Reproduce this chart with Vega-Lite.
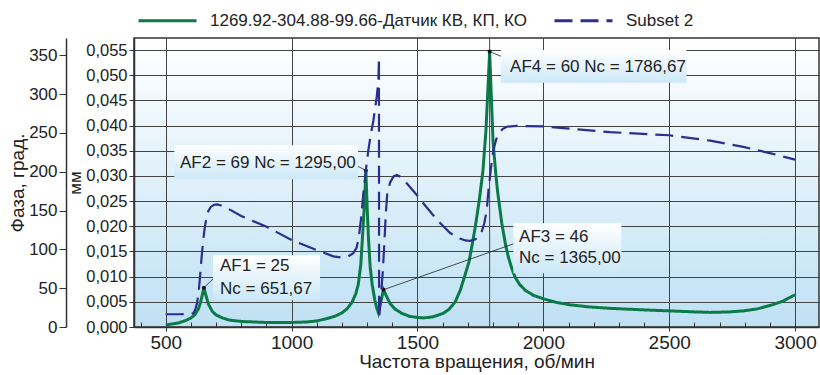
{
  "$schema": "https://vega.github.io/schema/vega-lite/v6.json",
  "width": 685,
  "height": 289,
  "autosize": {"type": "none"},
  "padding": {"left": 134, "top": 38, "right": 1, "bottom": 48},
  "background": "white",
  "config": {
    "locale": {"number": {"decimal": ",", "thousands": " ", "grouping": [3], "currency": ["", ""]}},
    "font": "Liberation Sans",
    "view": {
      "stroke": "#333333",
      "strokeWidth": 1.5,
      "fill": {"gradient": "linear", "x1": 0, "y1": 0, "x2": 0, "y2": 1,
        "stops": [{"offset": 0, "color": "#ffffff"}, {"offset": 1, "color": "#bfe1f4"}]}
    },
    "axis": {
      "labelFont": "Liberation Sans", "titleFont": "Liberation Sans",
      "labelColor": "#222222", "titleColor": "#222222", "titleFontWeight": "normal",
      "domainColor": "#333333", "tickColor": "#333333", "domainWidth": 1.5, "tickWidth": 1,
      "labelOverlap": false
    },
    "legend": {"labelFont": "Liberation Sans"}
  },
  "datasets": {
    "amp": [
      {"rpm": 500, "v": 0.0004}, {"rpm": 550, "v": 0.0008}, {"rpm": 580, "v": 0.0013},
      {"rpm": 600, "v": 0.0018}, {"rpm": 615, "v": 0.0024}, {"rpm": 630, "v": 0.0036},
      {"rpm": 640, "v": 0.0052}, {"rpm": 651.67, "v": 0.0078}, {"rpm": 660, "v": 0.0062},
      {"rpm": 670, "v": 0.0045}, {"rpm": 685, "v": 0.0031}, {"rpm": 700, "v": 0.0024},
      {"rpm": 725, "v": 0.0018}, {"rpm": 750, "v": 0.0014}, {"rpm": 800, "v": 0.0011},
      {"rpm": 900, "v": 0.0009}, {"rpm": 1000, "v": 0.0009}, {"rpm": 1060, "v": 0.001},
      {"rpm": 1100, "v": 0.0012}, {"rpm": 1150, "v": 0.0018}, {"rpm": 1175, "v": 0.0022},
      {"rpm": 1200, "v": 0.0028}, {"rpm": 1220, "v": 0.0036}, {"rpm": 1240, "v": 0.0049},
      {"rpm": 1255, "v": 0.0066}, {"rpm": 1265, "v": 0.0085}, {"rpm": 1275, "v": 0.0125},
      {"rpm": 1283, "v": 0.019}, {"rpm": 1290, "v": 0.025}, {"rpm": 1295, "v": 0.0311},
      {"rpm": 1300, "v": 0.024}, {"rpm": 1305, "v": 0.018}, {"rpm": 1312, "v": 0.012},
      {"rpm": 1320, "v": 0.0085}, {"rpm": 1330, "v": 0.0055}, {"rpm": 1338, "v": 0.0038},
      {"rpm": 1345, "v": 0.0028}, {"rpm": 1365, "v": 0.0074}, {"rpm": 1380, "v": 0.0058},
      {"rpm": 1391, "v": 0.0047}, {"rpm": 1410, "v": 0.0036}, {"rpm": 1438, "v": 0.0027},
      {"rpm": 1470, "v": 0.0021}, {"rpm": 1500, "v": 0.0019}, {"rpm": 1524, "v": 0.0018},
      {"rpm": 1560, "v": 0.002}, {"rpm": 1602, "v": 0.0027}, {"rpm": 1625, "v": 0.0035},
      {"rpm": 1650, "v": 0.005}, {"rpm": 1670, "v": 0.0073}, {"rpm": 1690, "v": 0.0105},
      {"rpm": 1705, "v": 0.013}, {"rpm": 1716, "v": 0.016}, {"rpm": 1730, "v": 0.02},
      {"rpm": 1745, "v": 0.025}, {"rpm": 1760, "v": 0.031}, {"rpm": 1772, "v": 0.039},
      {"rpm": 1786.67, "v": 0.0547}, {"rpm": 1800, "v": 0.037}, {"rpm": 1810, "v": 0.031},
      {"rpm": 1818, "v": 0.027}, {"rpm": 1835, "v": 0.0206}, {"rpm": 1850, "v": 0.0163},
      {"rpm": 1861, "v": 0.0139}, {"rpm": 1875, "v": 0.0116}, {"rpm": 1888, "v": 0.0099},
      {"rpm": 1905, "v": 0.0085}, {"rpm": 1928, "v": 0.0073}, {"rpm": 1960, "v": 0.0063},
      {"rpm": 2000, "v": 0.0056}, {"rpm": 2050, "v": 0.0049}, {"rpm": 2107, "v": 0.0044},
      {"rpm": 2180, "v": 0.004}, {"rpm": 2266, "v": 0.0037}, {"rpm": 2400, "v": 0.0034},
      {"rpm": 2500, "v": 0.0032}, {"rpm": 2600, "v": 0.003}, {"rpm": 2663, "v": 0.0029},
      {"rpm": 2740, "v": 0.003}, {"rpm": 2795, "v": 0.0032}, {"rpm": 2850, "v": 0.0036},
      {"rpm": 2902, "v": 0.0043}, {"rpm": 2950, "v": 0.0051}, {"rpm": 3000, "v": 0.0064}
    ],
    "phase": [
      {"rpm": 500, "v": 16.4}, {"rpm": 550, "v": 16.4}, {"rpm": 600, "v": 16.6},
      {"rpm": 610, "v": 18}, {"rpm": 618, "v": 23}, {"rpm": 625, "v": 32},
      {"rpm": 631, "v": 45}, {"rpm": 636, "v": 64}, {"rpm": 642, "v": 88},
      {"rpm": 649, "v": 112}, {"rpm": 655, "v": 128}, {"rpm": 662, "v": 141},
      {"rpm": 670, "v": 150}, {"rpm": 680, "v": 155}, {"rpm": 692, "v": 157.5},
      {"rpm": 705, "v": 158}, {"rpm": 720, "v": 156.5}, {"rpm": 750, "v": 152},
      {"rpm": 800, "v": 143}, {"rpm": 901, "v": 129}, {"rpm": 1000, "v": 112},
      {"rpm": 1100, "v": 99}, {"rpm": 1166, "v": 91}, {"rpm": 1200, "v": 89.5},
      {"rpm": 1225, "v": 91}, {"rpm": 1245, "v": 95}, {"rpm": 1258, "v": 102},
      {"rpm": 1267, "v": 115}, {"rpm": 1276, "v": 140}, {"rpm": 1285, "v": 172},
      {"rpm": 1295, "v": 202}, {"rpm": 1305, "v": 228}, {"rpm": 1315, "v": 249},
      {"rpm": 1325, "v": 266}, {"rpm": 1338, "v": 296}, {"rpm": 1345, "v": 318},
      {"rpm": 1347, "v": 347}, {"rpm": 1347.6, "v": 11}, {"rpm": 1350, "v": 20},
      {"rpm": 1356, "v": 45}, {"rpm": 1362, "v": 70}, {"rpm": 1368, "v": 105},
      {"rpm": 1374, "v": 145}, {"rpm": 1380, "v": 172}, {"rpm": 1391, "v": 186},
      {"rpm": 1405, "v": 194}, {"rpm": 1418, "v": 196}, {"rpm": 1430, "v": 194},
      {"rpm": 1450, "v": 188}, {"rpm": 1471, "v": 180}, {"rpm": 1500, "v": 169},
      {"rpm": 1524, "v": 159}, {"rpm": 1560, "v": 145}, {"rpm": 1590, "v": 134},
      {"rpm": 1630, "v": 121}, {"rpm": 1669, "v": 114}, {"rpm": 1690, "v": 111.5},
      {"rpm": 1709, "v": 111}, {"rpm": 1730, "v": 113}, {"rpm": 1742, "v": 116},
      {"rpm": 1755, "v": 123}, {"rpm": 1765, "v": 133}, {"rpm": 1775, "v": 150},
      {"rpm": 1782, "v": 176}, {"rpm": 1792, "v": 205}, {"rpm": 1802, "v": 228},
      {"rpm": 1812, "v": 241}, {"rpm": 1822, "v": 249}, {"rpm": 1838, "v": 255},
      {"rpm": 1855, "v": 258}, {"rpm": 1894, "v": 259}, {"rpm": 2000, "v": 258.5},
      {"rpm": 2265, "v": 251}, {"rpm": 2500, "v": 247}, {"rpm": 2663, "v": 240},
      {"rpm": 2795, "v": 232}, {"rpm": 2900, "v": 224}, {"rpm": 3000, "v": 215.6}
    ],
    "boxes": [
      {"x1": 688, "x2": 1113, "y1": 0.0053, "y2": 0.01425},
      {"x1": 534, "x2": 1264, "y1": 0.02936, "y2": 0.03612},
      {"x1": 1881, "x2": 2310, "y1": 0.01068, "y2": 0.02062},
      {"x1": 1831, "x2": 2568, "y1": 0.04851, "y2": 0.05501}
    ],
    "leaders": [
      {"x1": 651.67, "y1": 0.0078, "x2": 696, "y2": 0.00994},
      {"x1": 1295, "y1": 0.0311, "x2": 1260, "y2": 0.032},
      {"x1": 1365, "y1": 0.0074, "x2": 1888, "y2": 0.01664},
      {"x1": 1786.67, "y1": 0.0547, "x2": 1835, "y2": 0.0537}
    ],
    "labels": [
      {"x": 715.7, "y": 0.01207, "t": "AF1 = 25"},
      {"x": 715.7, "y": 0.00763, "t": "Nc = 651,67"},
      {"x": 556.8, "y": 0.03254, "t": "AF2 = 69 Nc = 1295,00"},
      {"x": 1903.6, "y": 0.01789, "t": "AF3 = 46"},
      {"x": 1903.6, "y": 0.01366, "t": "Nc = 1365,00"},
      {"x": 1868, "y": 0.05169, "t": "AF4 = 60 Nc = 1786,67"}
    ],
    "peaks": [
      {"x": 651.67, "y": 0.0078}, {"x": 1295, "y": 0.0311},
      {"x": 1365, "y": 0.0074}, {"x": 1786.67, "y": 0.0547}
    ],
    "marker": [{"rpm": 1786.67}]
  },
  "layer": [
    {
      "layer": [
        {
          "data": {"name": "amp"},
          "transform": [{"calculate": "'1269.92-304.88-99.66-Датчик КВ, КП, КО'", "as": "series"}],
          "mark": {"type": "line", "strokeWidth": 3, "interpolate": "linear"},
          "encoding": {
            "x": {
              "field": "rpm", "type": "quantitative",
              "scale": {"domain": [374, 3095], "nice": false, "zero": false},
              "axis": {
                "title": "Частота вращения, об/мин", "orient": "bottom",
                "values": [500, 1000, 1500, 2000, 2500, 3000], "tickCount": 10, "format": "d",
                "labelFontSize": 19, "titleFontSize": 19, "tickSize": 4, "labelPadding": 2,
                "titlePadding": 0, "grid": true, "gridColor": "#444444", "gridWidth": 1
              }
            },
            "y": {
              "field": "v", "type": "quantitative",
              "scale": {"domain": [0, 0.0574], "nice": false, "zero": false},
              "axis": {
                "title": "мм", "orient": "left",
                "values": [0, 0.005, 0.01, 0.015, 0.02, 0.025, 0.03, 0.035, 0.04, 0.045, 0.05, 0.055],
                "tickCount": 20,
                "format": ".3f", "labelFontSize": 16.5, "titleFontSize": 17, "tickSize": 5,
                "labelPadding": 2, "titlePadding": 1, "grid": true, "gridColor": "#444444", "gridWidth": 1
              }
            },
            "color": {
              "field": "series", "type": "nominal",
              "scale": {"domain": ["1269.92-304.88-99.66-Датчик КВ, КП, КО", "Subset 2"], "range": ["#0b7a48", "#2c2e8e"]},
              "legend": {
                "orient": "none", "legendX": 3, "legendY": -48, "direction": "horizontal", "title": null,
                "symbolType": "stroke", "symbolSize": 3364, "symbolStrokeWidth": 3,
                "labelFontSize": 17, "labelColor": "#222222", "labelOffset": 12, "columnPadding": 20, "padding": 0,
                "labelLimit": 500
              }
            },
            "strokeDash": {
              "field": "series", "type": "nominal",
              "scale": {"domain": ["1269.92-304.88-99.66-Датчик КВ, КП, КО", "Subset 2"], "range": [[1, 0], [18, 8]]},
              "legend": {
                "orient": "none", "legendX": 3, "legendY": -48, "direction": "horizontal", "title": null,
                "symbolType": "stroke", "symbolSize": 3364, "symbolStrokeWidth": 3,
                "labelFontSize": 17, "labelColor": "#222222", "labelOffset": 12, "columnPadding": 20, "padding": 0,
                "labelLimit": 500
              }
            }
          }
        },
        {
          "data": {"name": "marker"},
          "mark": {"type": "rule", "color": "#444444", "strokeWidth": 1},
          "encoding": {
            "x": {"field": "rpm", "type": "quantitative"}
          }
        },
        {
          "data": {"name": "leaders"},
          "mark": {"type": "rule", "color": "#222222", "strokeWidth": 0.8},
          "encoding": {
            "x": {"field": "x1", "type": "quantitative"},
            "y": {"field": "y1", "type": "quantitative"},
            "x2": {"field": "x2"},
            "y2": {"field": "y2"}
          }
        },
        {
          "data": {"name": "boxes"},
          "mark": {
            "type": "rect",
            "fill": {"gradient": "linear", "x1": 0, "y1": 0, "x2": 0, "y2": 1,
              "stops": [{"offset": 0, "color": "#ffffff"}, {"offset": 1, "color": "#cbe8f8"}]}
          },
          "encoding": {
            "x": {"field": "x1", "type": "quantitative"},
            "x2": {"field": "x2"},
            "y": {"field": "y1", "type": "quantitative"},
            "y2": {"field": "y2"}
          }
        },
        {
          "data": {"name": "labels"},
          "mark": {"type": "text", "align": "left", "baseline": "middle", "fontSize": 17, "color": "#222222", "font": "Liberation Sans"},
          "encoding": {
            "x": {"field": "x", "type": "quantitative"},
            "y": {"field": "y", "type": "quantitative"},
            "text": {"field": "t"}
          }
        },
        {
          "data": {"name": "peaks"},
          "mark": {"type": "point", "filled": true, "size": 16, "color": "#111111", "opacity": 1},
          "encoding": {
            "x": {"field": "x", "type": "quantitative"},
            "y": {"field": "y", "type": "quantitative"}
          }
        }
      ]
    },
    {
      "data": {"name": "phase"},
      "transform": [{"calculate": "'Subset 2'", "as": "series"}],
      "mark": {"type": "line", "strokeWidth": 2.2, "interpolate": "linear"},
      "encoding": {
        "x": {
          "field": "rpm", "type": "quantitative",
          "scale": {"domain": [374, 3095], "nice": false, "zero": false},
          "axis": {
            "title": null, "orient": "top", "offset": -289, "labels": false, "domain": false, "grid": false,
            "values": [400, 500, 600, 700, 800, 900, 1000, 1100, 1200, 1300, 1400, 1500, 1600, 1700, 1800, 1900, 2000, 2100, 2200, 2300, 2400, 2500, 2600, 2700, 2800, 2900, 3000],
            "tickCount": 40, "tickSize": 5, "ticks": true
          }
        },
        "y": {
          "field": "v", "type": "quantitative",
          "scale": {"domain": [0, 372.3], "nice": false, "zero": false},
          "axis": {
            "title": "Фаза, град.", "orient": "left", "offset": 68,
            "values": [0, 50, 100, 150, 200, 250, 300, 350], "tickCount": 10,
            "labelFontSize": 17, "titleFontSize": 19, "tickSize": 7, "labelPadding": 2,
            "titlePadding": 1, "grid": false
          }
        },
        "color": {"field": "series", "type": "nominal"},
        "strokeDash": {"field": "series", "type": "nominal"}
      }
    }
  ],
  "resolve": {"scale": {"x": "independent", "y": "independent"}}
}
